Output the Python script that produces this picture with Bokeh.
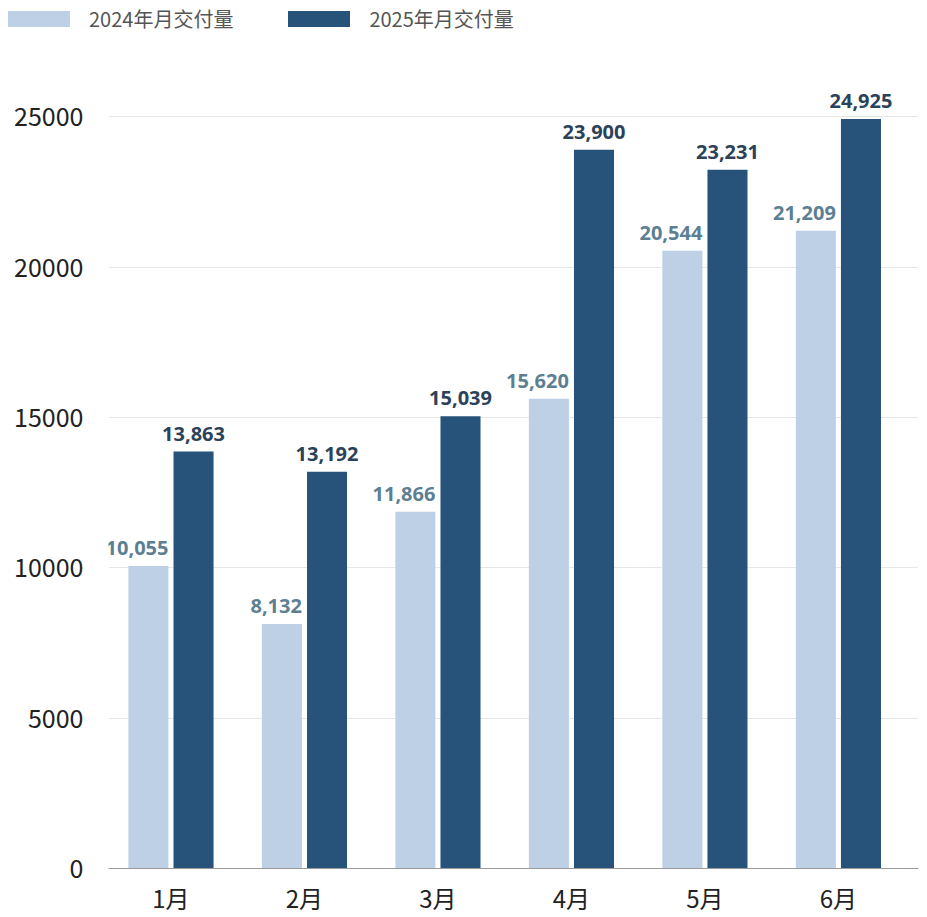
from bokeh.plotting import figure
from bokeh.layouts import column
from bokeh.models import ColumnDataSource, FixedTicker, Range1d, Div
from bokeh.core.properties import value
from bokeh.transform import dodge
from bokeh.embed import file_html
from bokeh.resources import INLINE

months = ["1月", "2月", "3月", "4月", "5月", "6月"]
d2024 = [10055, 8132, 11866, 15620, 20544, 21209]
d2025 = [13863, 13192, 15039, 23900, 23231, 24925]
series_names = ["2024年月交付量", "2025年月交付量"]
y_ticks = [0, 5000, 10000, 15000, 20000, 25000]

c_light = "#BED0E6"
c_dark = "#27527A"
lbl_light = "#5C7F92"
lbl_dark = "#2B4259"

src = ColumnDataSource(dict(
    x=list(range(len(months))),
    v24=d2024,
    v25=d2025,
    t24=[f"{v:,}" for v in d2024],
    t25=[f"{v:,}" for v in d2025],
))

# ---- legend strip (HTML) ----
def item(color, label, first):
    ml = 8 if first else 55
    return (f'<span style="display:inline-block;width:62px;height:16px;'
            f'background:{color};margin-left:{ml}px;"></span>'
            f'<span style="margin-left:19px;">{label}</span>')

legend_html = (
    '<div style="font-family:\'Noto Sans CJK SC\';font-size:20px;color:#555555;'
    'display:flex;align-items:center;height:38px;white-space:nowrap;">'
    + item(c_light, series_names[0], True)
    + item(c_dark, series_names[1], False)
    + '</div>'
)
lg = Div(text=legend_html, width=926, height=40, margin=0)

# ---- main chart ----
p = figure(width=926, height=877, output_backend="svg", toolbar_location=None,
           x_range=Range1d(-0.468, 5.6), y_range=Range1d(0, 26800),
           min_border_left=108, min_border_right=8, min_border_top=22,
           min_border_bottom=49)
p.outline_line_color = None
p.background_fill_color = "white"
p.border_fill_color = "white"

r1 = p.vbar(x=dodge("x", -0.169, range=p.x_range), top="v24", width=0.3,
            bottom=0, source=src, fill_color=c_light, line_color=None)
r2 = p.vbar(x=dodge("x", 0.169, range=p.x_range), top="v25", width=0.3,
            bottom=0, source=src, fill_color=c_dark, line_color=None)

p.text(x=dodge("x", -0.019, range=p.x_range), y="v24", text="t24", source=src,
       text_align="right", text_baseline="bottom", y_offset=-11,
       text_font=value("Open Sans"), text_font_style="bold",
       text_font_size="20px", text_color=lbl_light)
p.text(x=dodge("x", 0.169, range=p.x_range), y="v25", text="t25", source=src,
       text_align="center", text_baseline="bottom", y_offset=-11,
       text_font=value("Open Sans"), text_font_style="bold",
       text_font_size="20px", text_color=lbl_dark)

p.xaxis.ticker = FixedTicker(ticks=list(range(len(months))))
p.xaxis.major_label_overrides = {i: m for i, m in enumerate(months)}
p.xaxis.major_tick_line_color = None
p.xaxis.minor_tick_line_color = None
p.xaxis.axis_line_color = "#9a9a9a"
p.xaxis.axis_line_width = 1
p.xaxis.major_label_text_font = "Noto Sans CJK SC"
p.xaxis.major_label_text_font_size = "24px"
p.xaxis.major_label_text_color = "#222222"
p.xaxis.major_label_standoff = 5

p.yaxis.ticker = FixedTicker(ticks=y_ticks)
p.yaxis.major_tick_line_color = None
p.yaxis.minor_tick_line_color = None
p.yaxis.axis_line_color = None
p.yaxis.major_label_text_font = "Noto Sans CJK SC"
p.yaxis.major_label_text_font_size = "25px"
p.yaxis.major_label_text_color = "#222222"
p.yaxis.major_label_standoff = 19

p.xgrid.grid_line_color = None
p.ygrid.grid_line_color = "#e6e6e6"
p.ygrid.grid_line_width = 1

layout = column(lg, p, spacing=0)
open("out.html", "w").write(file_html(layout, INLINE))
